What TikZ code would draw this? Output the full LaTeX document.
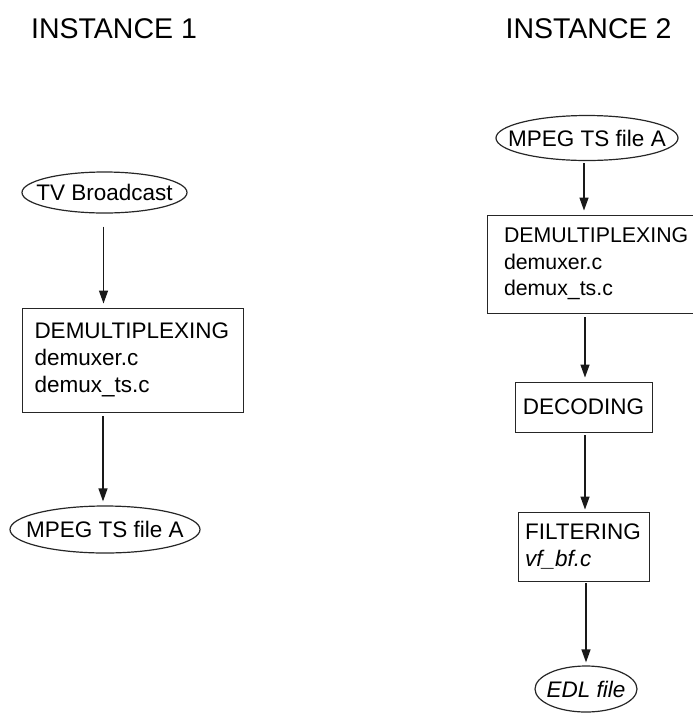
\documentclass[tikz,border=0pt]{standalone}
\usepackage{fontspec}
\setmainfont{Liberation Sans}
\usetikzlibrary{shapes.geometric,arrows.meta}
\begin{document}
\begin{tikzpicture}[x=1pt,y=-1pt,
  title/.style={font=\fontsize{28.5}{32}\selectfont, anchor=base, inner sep=0},
  oval/.style={draw=black!85, line width=1.2pt, ellipse, inner sep=0,
     font=\fontsize{22.5}{27}\selectfont},
  stepbox/.style={draw=black!85, line width=0.9pt, rectangle, inner ysep=0,
     font=\fontsize{22.5}{27}\selectfont, align=left},
  arr/.style={draw=black!90, line width=1.3pt,
     -{Triangle[length=13pt,width=9pt]}, shorten <=4pt, shorten >=4pt}]
\useasboundingbox (0,0) rectangle (693,713);
\clip (0,0) rectangle (693,713);
% titles
\node[title] (t1) at (114,38) {INSTANCE 1};
\node[title] (t2) at (588.5,38) {INSTANCE 2};
% instance 1
\node[oval, minimum width=165pt, minimum height=41pt] (tv) at (104.5,192.5) {\makebox[0pt]{TV Broadcast}};
\node[stepbox, inner xsep=12.5pt, text width=196pt, minimum height=104pt] (dmxA) at (132.5,360) {DEMULTIPLEXING\\demuxer.c\\demux\_ts.c};
\node[oval, minimum width=190pt, minimum height=47pt] (tsA) at (105,529.5) {\makebox[0pt]{MPEG TS file A}};
% instance 2
\node[oval, minimum width=182pt, minimum height=45pt] (tsB) at (587,138) {\makebox[0pt]{MPEG TS file A}};
\node[stepbox, font=\fontsize{21.3}{26.5}\selectfont, inner xsep=17pt, text width=210pt, minimum height=98pt] (dmxB) at (609,264) {DEMULTIPLEXING\\demuxer.c\\demux\_ts.c};
\node[stepbox, inner xsep=0pt, minimum width=137pt, minimum height=50pt, align=center] (dec) at (583.5,407) {DECODING};
\node[stepbox, inner xsep=7pt, text width=117pt, minimum height=69pt] (filt) at (583.5,546.5) {FILTERING\\\textit{vf\_bf.c}};
\node[oval, minimum width=102pt, minimum height=46pt] (edl) at (586,689) {\makebox[0pt]{\textit{EDL file}}};
% connectors
\draw[arr, shorten <=13pt] ([xshift=-1pt]tv.south) -- ([xshift=-1pt]tv.south |- dmxA.north);
\draw[arr] (tsA.north |- dmxA.south) ++(-2pt,0) -- ([xshift=-2pt]tsA.north);
\draw[arr, shorten <=2pt] ([xshift=-3pt]tsB.south) -- ([xshift=-3pt]tsB.south |- dmxB.north);
\draw[arr] (dec.north |- dmxB.south) ++(1.5pt,0) -- ([xshift=1.5pt]dec.north);
\draw[arr, shorten <=3pt, shorten >=2pt] ([xshift=1.5pt]dec.south) -- ([xshift=1.5pt]dec.south |- filt.north);
\draw[arr, shorten <=2pt, shorten >=3pt] (edl.north |- filt.south) -- (edl.north);
\end{tikzpicture}
\end{document}
